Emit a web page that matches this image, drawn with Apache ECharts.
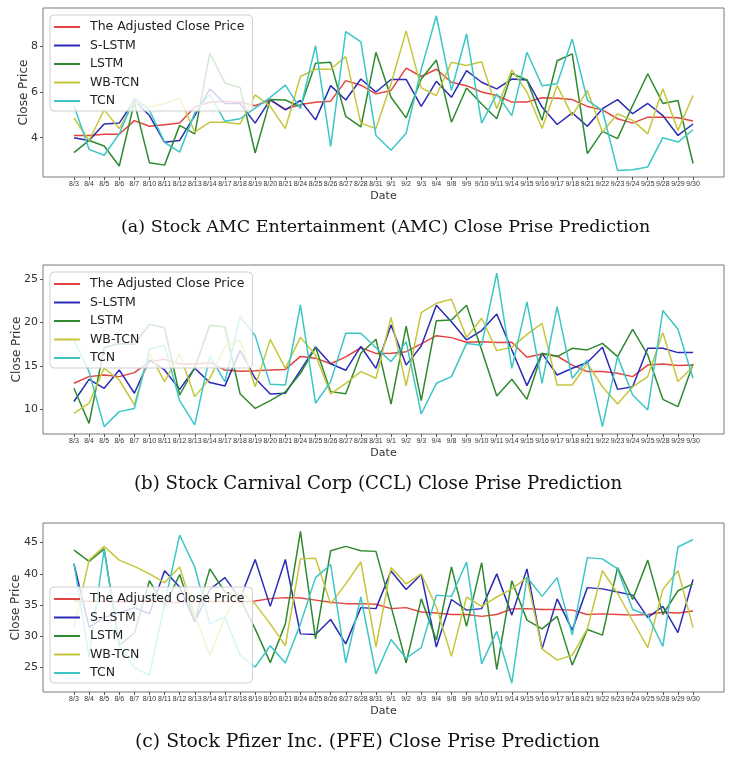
<!DOCTYPE html>
<html>
<head>
<meta charset="utf-8">
<script src="https://cdn.jsdelivr.net/npm/echarts@6/dist/echarts.min.js"></script>
<style>
html,body{margin:0;padding:0;background:#fff;}
#chart{width:733px;height:758px;}
</style>
</head>
<body>
<div id="chart"></div>
<script>
const dates = ['8/3','8/4','8/5','8/6','8/7','8/10','8/11','8/12','8/13','8/14','8/17','8/18','8/19','8/20','8/21','8/24','8/25','8/26','8/27','8/28','8/31','9/1','9/2','9/3','9/4','9/8','9/9','9/10','9/11','9/14','9/15','9/16','9/17','9/18','9/21','9/22','9/23','9/24','9/25','9/28','9/29','9/30'];

const seriesNames = ['The Adjusted Close Price','S-LSTM','LSTM','WB-TCN','TCN'];

// (a) AMC
const amcAdj   = [4.1,4.1,4.15,4.15,4.75,4.5,4.57,4.64,5.35,5.55,5.6,5.55,5.4,5.65,5.25,5.45,5.55,5.6,6.5,6.3,5.92,6.07,7.05,6.68,7.0,6.43,6.28,6.0,5.85,5.56,5.56,5.75,5.73,5.67,5.37,5.22,4.83,4.64,4.9,4.9,4.87,4.73];
const amcSLSTM = [4.0,3.88,4.6,4.64,5.63,4.97,3.8,3.88,4.97,6.14,5.5,5.5,4.64,5.67,5.22,5.63,4.78,6.28,5.65,6.57,6.0,6.55,6.55,5.37,6.47,5.77,6.94,6.43,6.14,6.57,6.53,5.34,4.58,5.09,4.5,5.27,5.67,5.05,5.5,4.97,4.1,4.6];
const amcLSTM  = [3.35,3.88,3.64,2.76,5.55,2.9,2.8,4.54,4.17,7.7,6.4,6.2,3.33,5.67,5.65,5.34,7.26,7.3,4.93,4.47,7.74,5.77,4.87,6.57,7.4,4.68,6.18,5.48,4.83,6.82,6.53,4.76,7.37,7.67,3.3,4.28,3.96,5.41,6.8,5.5,5.63,2.87];
const amcWBTCN = [4.87,3.88,5.22,4.4,5.55,5.35,5.5,5.75,4.25,4.68,4.68,4.6,5.88,5.37,4.4,6.68,7.0,7.0,7.55,4.64,4.4,6.36,8.68,6.18,5.85,7.3,7.16,7.33,5.27,6.97,6.0,4.4,6.28,4.97,6.07,4.25,5.05,4.76,4.17,6.14,4.32,5.85];
const amcTCN   = [5.41,3.49,3.23,4.17,5.75,5.2,3.8,3.37,5.08,5.9,4.72,4.83,5.3,5.77,6.3,5.27,8.03,3.62,8.65,8.2,4.1,3.45,4.2,7.0,9.34,6.07,8.54,4.64,5.92,4.97,7.74,6.28,6.36,8.32,5.65,5.19,2.57,2.6,2.72,4.0,3.81,4.35];
const amcTicks = [4,6,8];

// (b) CCL
const cclAdj   = [13.0,13.77,13.96,13.77,14.23,15.5,15.77,15.23,15.23,15.4,14.54,14.4,14.46,14.54,14.6,16.1,15.9,15.25,16.05,17.1,16.45,16.46,16.65,17.54,18.5,18.27,17.73,17.8,17.7,17.73,16.0,16.38,16.15,15.1,14.35,14.35,14.15,13.77,15.1,15.23,15.04,15.1];
const cclSLSTM = [10.9,13.46,12.42,14.54,11.85,15.7,14.54,12.3,14.73,13.08,12.7,16.8,13.58,11.77,11.85,14.5,17.2,15.25,14.5,17.25,14.73,19.73,15.1,17.3,22.0,20.1,18.0,19.08,21.0,16.85,12.73,16.46,13.96,14.73,15.4,17.15,12.3,12.6,17.04,17.04,16.54,16.54];
const cclLSTM  = [12.42,8.38,17.1,17.6,17.5,19.8,19.4,11.65,14.8,19.7,19.5,11.8,10.1,11.0,12.0,14.15,17.15,12.04,11.8,16.46,18.08,10.6,19.6,11.0,20.23,20.3,22.0,16.85,11.54,13.46,11.15,16.46,16.08,17.04,16.85,17.6,16.08,19.23,16.27,11.15,10.3,15.23];
const cclWBTCN = [9.54,10.7,14.73,13.38,10.5,16.46,13.2,16.4,11.46,13.57,17.23,18.0,12.6,18.07,14.73,18.3,16.27,11.77,13.0,14.35,13.58,20.6,12.7,21.15,22.23,22.7,18.3,20.5,16.77,17.15,18.65,19.92,12.8,12.8,15.3,12.6,10.6,12.6,13.77,18.85,13.2,14.9];
const cclTCN   = [18.0,14.35,8.0,9.73,10.1,16.96,17.4,11.0,8.2,16.15,13.2,20.7,18.5,12.9,12.8,22.04,10.7,13.2,18.77,18.77,17.1,15.5,17.8,9.46,13.0,13.77,17.6,17.4,25.7,14.73,22.4,13.0,21.85,13.58,15.7,8.0,16.08,11.65,9.92,21.4,19.23,13.58];
const cclTicks = [10,15,20,25];

// (c) PFE
const pfeAdj   = [35.7,35.6,35.6,35.5,35.6,35.7,35.5,35.4,35.5,35.6,35.6,35.5,35.67,36.04,36.2,36.15,35.8,35.45,35.24,35.24,35.13,34.44,34.6,33.9,33.75,33.5,33.5,33.2,33.5,34.4,34.44,34.3,34.3,34.2,33.5,33.6,33.5,33.4,33.5,33.85,33.75,34.07];
const pfeSLSTM = [41.6,31.5,33.0,33.8,34.6,33.6,40.5,37.9,32.3,37.5,39.4,36.0,42.3,34.8,42.3,30.4,30.3,32.7,28.8,34.6,34.44,40.47,37.5,39.93,28.3,35.9,34.2,34.44,40.0,33.4,40.8,28.0,36.0,31.0,37.8,37.6,37.1,36.6,33.0,34.8,30.6,39.1];
const pfeLSTM  = [43.8,42.0,44.0,28.6,30.5,38.9,34.8,39.9,32.5,40.8,37.1,36.0,31.2,25.8,32.0,46.8,29.6,43.7,44.4,43.7,43.6,34.8,25.75,36.0,29.4,41.1,31.6,41.8,24.7,38.9,32.6,31.2,33.2,25.4,31.1,30.2,41.0,35.9,42.2,33.5,37.3,38.4];
const pfeWBTCN = [31.3,42.2,44.4,42.2,41.2,40.0,38.6,41.1,33.5,27.0,33.0,37.3,35.2,32.0,28.5,42.4,42.5,35.2,38.4,41.9,28.3,41.0,38.4,40.0,34.7,26.8,36.3,34.8,36.3,37.6,39.4,28.0,26.2,27.0,31.2,40.5,36.9,32.5,28.2,37.5,40.5,31.4];
const pfeTCN   = [41.7,26.7,43.9,28.5,25.0,23.8,35.2,46.2,41.1,32.0,33.1,27.0,25.1,28.5,25.75,32.0,39.4,41.5,25.75,36.3,24.0,29.5,26.5,28.2,36.6,36.4,41.9,25.6,30.8,22.5,39.5,36.4,39.4,30.2,42.6,42.4,40.8,34.3,33.4,28.4,44.3,45.5];
const pfeTicks = [25,30,35,40,45];

const captions = [
  '(a) Stock AMC Entertainment (AMC) Close Prise Prediction',
  '(b) Stock Carnival Corp (CCL) Close Prise Prediction',
  '(c) Stock Pfizer Inc. (PFE) Close Prise Prediction'
];

const colors = ['#e2453f','#2b2bb8','#2f8a2f','#c6c63c','#3cc6c6'];

const panels = [
  {data:[amcAdj,amcSLSTM,amcLSTM,amcWBTCN,amcTCN], ticks:amcTicks, min:2.28, max:9.68, top:8, legTop:15, nameGap:13, capTop:213, capLeft:116, capSize:17.5},
  {data:[cclAdj,cclSLSTM,cclLSTM,cclWBTCN,cclTCN], ticks:cclTicks, min:7.15, max:26.65, top:265, legTop:272, nameGap:20, capTop:470, capLeft:129, capSize:18.2},
  {data:[pfeAdj,pfeSLSTM,pfeLSTM,pfeWBTCN,pfeTCN], ticks:pfeTicks, min:21.1, max:48.14, top:523, legTop:587, nameGap:21, capTop:728, capLeft:130, capSize:18.8}
];

const idx = dates.map((d,i)=>i);
const grids=[], xAxes=[], yAxes=[], legends=[], titles=[], series=[];
const font = 'DejaVu Sans';

panels.forEach((p,k)=>{
  grids.push({left:43, width:681, top:p.top, height:169, show:true, borderColor:'#7a7a7a', borderWidth:1, backgroundColor:'transparent'});
  xAxes.push({
    gridIndex:k, type:'value', min:-2.05, max:43.05,
    splitLine:{show:false}, axisLine:{show:false, onZero:false},
    axisTick:{show:true, customValues:idx, length:3, lineStyle:{color:'#555'}},
    axisLabel:{customValues:idx, formatter:(v)=>dates[Math.round(v)], fontSize:7, color:'#333', margin:4, fontFamily:'Liberation Sans', hideOverlap:false},
    name:'Date', nameLocation:'middle', nameGap:14, nameMoveOverlap:false,
    nameTextStyle:{fontSize:11, color:'#333', fontFamily:font}
  });
  yAxes.push({
    gridIndex:k, type:'value', min:p.min, max:p.max,
    splitLine:{show:false}, axisLine:{show:false, onZero:false},
    axisTick:{show:true, customValues:p.ticks, length:3, lineStyle:{color:'#555'}},
    axisLabel:{customValues:p.ticks, fontSize:11, color:'#333', margin:5, fontFamily:font},
    name:'Close Price', nameLocation:'middle', nameGap:p.nameGap, nameRotate:90, nameMoveOverlap:false,
    nameTextStyle:{fontSize:12, color:'#333', fontFamily:font}
  });
  legends.push({
    orient:'vertical', left:50, top:p.legTop, data:seriesNames,
    icon:'rect', itemWidth:26, itemHeight:2, itemGap:4.5,
    textStyle:{fontSize:12.5, color:'#222', fontFamily:font, padding:[0,0,0,5], lineHeight:14},
    backgroundColor:'rgba(255,255,255,0.8)', borderColor:'#cfcfcf', borderWidth:1, borderRadius:4,
    padding:[5,8,3,4], selectedMode:false
  });
  titles.push({text:captions[k], left:p.capLeft, top:p.capTop,
    textStyle:{fontSize:p.capSize, fontWeight:'normal', color:'#111', fontFamily:'DejaVu Serif'}});
  p.data.forEach((vals,j)=>{
    series.push({
      type:'line', name:seriesNames[j], xAxisIndex:k, yAxisIndex:k,
      data: vals.map((v,i)=>[i,v]), symbol:'none', showSymbol:false,
      lineStyle:{width:1.5, color:colors[j]}, itemStyle:{color:colors[j]},
      animation:false
    });
  });
});

const chart = echarts.init(document.getElementById('chart'));
chart.setOption({
  animation:false,
  backgroundColor:'#fff',
  title:titles, grid:grids, xAxis:xAxes, yAxis:yAxes, legend:legends, series:series
});
</script>
</body>
</html>
